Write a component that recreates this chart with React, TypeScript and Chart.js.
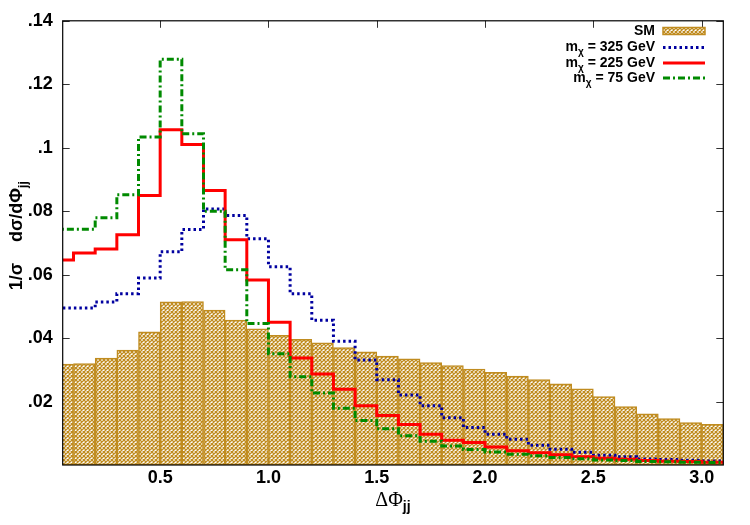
import React, { useEffect, useRef } from 'react';
import { Chart, registerables } from 'chart.js';

Chart.register(...registerables);

// Left edges of the ΔΦjj bins (width 0.1)
const binStart = [
  0.0, 0.1, 0.2, 0.3, 0.4, 0.5, 0.6, 0.7, 0.8, 0.9,
  1.0, 1.1, 1.2, 1.3, 1.4, 1.5, 1.6, 1.7, 1.8, 1.9,
  2.0, 2.1, 2.2, 2.3, 2.4, 2.5, 2.6, 2.7, 2.8, 2.9, 3.0,
];
const binWidth = 0.1;

// Normalised distributions 1/σ dσ/dΦjj
const smValues = [
  0.0318, 0.0320, 0.0337, 0.0362, 0.0420, 0.0514, 0.0515, 0.0488, 0.0457, 0.0429,
  0.0409, 0.0396, 0.0385, 0.0370, 0.0357, 0.0343, 0.0335, 0.0323, 0.0313, 0.0302,
  0.0292, 0.0280, 0.0269, 0.0256, 0.0240, 0.0216, 0.0184, 0.0161, 0.0146, 0.0134, 0.0128,
];
const m325Values = [
  0.0495, 0.0495, 0.0514, 0.0540, 0.0589, 0.0672, 0.0742, 0.0807, 0.0786, 0.0713,
  0.0625, 0.0540, 0.0456, 0.0390, 0.0331, 0.0269, 0.0221, 0.0187, 0.0149, 0.0118,
  0.0097, 0.0081, 0.0062, 0.0050, 0.0040, 0.0031, 0.0026, 0.0019, 0.0017, 0.0015, 0.0013,
];
const m225Values = [
  0.0646, 0.0668, 0.0681, 0.0726, 0.0849, 0.1057, 0.1010, 0.0865, 0.0710, 0.0583,
  0.0450, 0.0337, 0.0287, 0.0239, 0.0187, 0.0156, 0.0128, 0.0097, 0.0078, 0.0071,
  0.0057, 0.0045, 0.0039, 0.0032, 0.0026, 0.0021, 0.0018, 0.0014, 0.0012, 0.0011, 0.0009,
];
const m75Values = [
  0.0743, 0.0743, 0.0779, 0.0852, 0.1034, 0.1279, 0.1044, 0.0800, 0.0615, 0.0446,
  0.0351, 0.0278, 0.0227, 0.0179, 0.0140, 0.0114, 0.0092, 0.0075, 0.0060, 0.0049,
  0.0041, 0.0034, 0.0029, 0.0024, 0.0020, 0.0016, 0.0014, 0.0011, 0.0010, 0.0009, 0.0008,
];

const xTickValues = [0.5, 1.0, 1.5, 2.0, 2.5, 3.0];
const yTickValues = [0.02, 0.04, 0.06, 0.08, 0.1, 0.12, 0.14];
const legendLabels = ['SM', '325', '225', '75'];

const GOLD = 'rgb(192,140,32)';
const BLUE = '#0000a0';
const RED = '#ff0000';
const GREEN = '#008a00';
const SANS = '"Liberation Sans", Arial, sans-serif';
const SERIF = '"Liberation Serif", "Times New Roman", serif';

// Cross-hatch fill used for the SM histogram
function makeHatch(): CanvasPattern | string {
  const p = 4;
  const c = document.createElement('canvas');
  c.width = p;
  c.height = p;
  const g = c.getContext('2d');
  if (!g) return GOLD;
  g.fillStyle = '#ffffff';
  g.fillRect(0, 0, p, p);
  g.strokeStyle = GOLD;
  g.lineWidth = 1.25;
  g.beginPath();
  for (let k = -1; k <= 1; k++) {
    g.moveTo(k * p, 0);
    g.lineTo(k * p + p, p);
    g.moveTo(k * p, p);
    g.lineTo(k * p + p, 0);
  }
  g.stroke();
  return g.createPattern(c, 'repeat') || GOLD;
}

function stepPoints(values: number[]) {
  const pts = binStart.map((x, i) => ({ x, y: values[i] }));
  const last = binStart.length - 1;
  pts.push({ x: binStart[last] + binWidth, y: values[last] });
  return pts;
}

function tickText(v: number): string {
  if (Math.abs(v) < 1e-9) return '';
  const r = Math.round(v * 100) / 100;
  return String(r).replace(/^0/, '');
}

export default function App() {
  const canvasRef = useRef<HTMLCanvasElement | null>(null);

  useEffect(() => {
    const canvas = canvasRef.current;
    if (!canvas) return;
    const hatch = makeHatch();

    const decor = {
      id: 'decor',
      beforeDatasetsDraw(chart: any) {
        const { ctx, chartArea: a, scales } = chart;
        const xs = scales.x;
        const ys = scales.y;
        ctx.save();
        ctx.strokeStyle = '#333';
        ctx.lineWidth = 1;
        ctx.beginPath();
        const tl = 7;
        for (const v of xTickValues) {
          const px = Math.round(xs.getPixelForValue(v)) + 0.5;
          ctx.moveTo(px, a.bottom);
          ctx.lineTo(px, a.bottom - tl);
          ctx.moveTo(px, a.top);
          ctx.lineTo(px, a.top + tl);
        }
        for (const v of yTickValues) {
          const py = Math.round(ys.getPixelForValue(v)) + 0.5;
          ctx.moveTo(a.left, py);
          ctx.lineTo(a.left + tl, py);
          ctx.moveTo(a.right, py);
          ctx.lineTo(a.right - tl, py);
        }
        ctx.stroke();
        ctx.restore();
      },
      afterDatasetsDraw(chart: any) {
        const { ctx, chartArea: a } = chart;
        ctx.save();
        // plot frame
        ctx.strokeStyle = '#000';
        ctx.lineWidth = 1.2;
        ctx.strokeRect(a.left, a.top, a.right - a.left, a.bottom - a.top);

        // legend
        const textRight = 655;
        const sx0 = 663;
        const sx1 = 705;
        const rows = [31, 47.5, 63, 78];
        const mainFont = `bold 14px ${SANS}`;
        const subFont = `bold 10px ${SANS}`;
        ctx.textBaseline = 'middle';
        ctx.fillStyle = '#000';
        rows.forEach((cy, i) => {
          if (i === 0) {
            ctx.font = mainFont;
            ctx.textAlign = 'right';
            ctx.fillText(legendLabels[0], textRight, cy);
          } else {
            const tail = ` = ${legendLabels[i]} GeV`;
            ctx.font = mainFont;
            const wm = ctx.measureText('m').width;
            const wt = ctx.measureText(tail).width;
            ctx.font = subFont;
            const ws = ctx.measureText('χ').width;
            let x = textRight - (wm + ws + wt);
            ctx.textAlign = 'left';
            ctx.font = mainFont;
            ctx.fillText('m', x, cy);
            x += wm;
            ctx.font = subFont;
            ctx.fillText('χ', x, cy + 5);
            x += ws;
            ctx.font = mainFont;
            ctx.fillText(tail, x, cy);
          }
        });
        // SM sample box
        ctx.fillStyle = hatch as any;
        ctx.fillRect(sx0, rows[0] - 3.5, sx1 - sx0, 7);
        ctx.strokeStyle = GOLD;
        ctx.lineWidth = 1.5;
        ctx.strokeRect(sx0, rows[0] - 3.5, sx1 - sx0, 7);
        // line samples
        const samples: [string, number[]][] = [
          [BLUE, [2.5, 3]],
          [RED, []],
          [GREEN, [7, 3, 2, 3]],
        ];
        samples.forEach(([col, dash], k) => {
          const cy = rows[k + 1];
          ctx.beginPath();
          ctx.setLineDash(dash);
          ctx.strokeStyle = col;
          ctx.lineWidth = 3;
          ctx.moveTo(sx0, cy);
          ctx.lineTo(sx1, cy);
          ctx.stroke();
        });
        ctx.setLineDash([]);
        ctx.restore();
      },
      afterDraw(chart: any) {
        const { ctx } = chart;
        ctx.save();
        ctx.fillStyle = '#000';
        ctx.textBaseline = 'alphabetic';

        // x-axis title: ΔΦ_jj
        ctx.font = `20px ${SERIF}`;
        const wMain = ctx.measureText('ΔΦ').width;
        ctx.font = `bold 14px ${SANS}`;
        const wSub = ctx.measureText('jj').width;
        let x = 393 - (wMain + wSub) / 2;
        ctx.textAlign = 'left';
        ctx.font = `20px ${SERIF}`;
        ctx.fillText('ΔΦ', x, 506);
        x += wMain;
        ctx.font = `bold 14px ${SANS}`;
        ctx.fillText('jj', x, 511);

        // y-axis title: 1/σ   dσ/dΦ_jj (reads bottom to top)
        ctx.translate(22, 0);
        ctx.rotate(-Math.PI / 2);
        ctx.font = `bold 18px ${SANS}`;
        const wa = ctx.measureText('1/σ').width;
        ctx.fillText('1/σ', -263 - wa, 0);
        const main = 'dσ/dΦ';
        const wb = ctx.measureText(main).width;
        ctx.fillText(main, -242, 0);
        ctx.font = `bold 12px ${SANS}`;
        ctx.fillText('jj', -242 + wb, 5);
        ctx.restore();
      },
    };

    const chart = new Chart(canvas, {
      type: 'bar',
      data: {
        datasets: [
          {
            type: 'line',
            label: 'm75',
            data: stepPoints(m75Values),
            stepped: true,
            borderColor: GREEN,
            borderWidth: 3,
            borderDash: [7, 3, 2, 3],
            pointRadius: 0,
            fill: false,
            order: 1,
          } as any,
          {
            type: 'line',
            label: 'm225',
            data: stepPoints(m225Values),
            stepped: true,
            borderColor: RED,
            borderWidth: 3,
            pointRadius: 0,
            fill: false,
            order: 2,
          } as any,
          {
            type: 'line',
            label: 'm325',
            data: stepPoints(m325Values),
            stepped: true,
            borderColor: BLUE,
            borderWidth: 3,
            borderDash: [2.5, 3],
            pointRadius: 0,
            fill: false,
            order: 3,
          } as any,
          {
            type: 'bar',
            label: 'SM',
            data: binStart.map((x, i) => ({ x: x + binWidth / 2, y: smValues[i] })),
            backgroundColor: hatch as any,
            borderColor: GOLD,
            borderWidth: 1.5,
            borderSkipped: false,
            barPercentage: 1,
            categoryPercentage: 1,
            order: 4,
          } as any,
        ],
      },
      options: {
        responsive: false,
        animation: false,
        events: [],
        layout: { padding: { top: 17, right: 26.7, left: 0, bottom: 0 } },
        plugins: {
          legend: { display: false },
          tooltip: { enabled: false },
        },
        scales: {
          x: {
            type: 'linear',
            min: 0.05,
            max: 3.1,
            offset: false,
            grid: { display: false, drawTicks: false },
            border: { display: false },
            afterBuildTicks: (s: any) => {
              s.ticks = xTickValues.map((v) => ({ value: v }));
            },
            afterFit: (s: any) => {
              s.height = 60;
            },
            ticks: {
              padding: 2,
              maxRotation: 0,
              autoSkip: false,
              color: '#000',
              font: { family: SANS, size: 18, weight: 'bold' },
              callback: (v: any) => Number(v).toFixed(1),
            },
          },
          y: {
            type: 'linear',
            min: 0,
            max: 0.14,
            grid: { display: false, drawTicks: false },
            border: { display: false },
            afterBuildTicks: (s: any) => {
              s.ticks = [0, ...yTickValues].map((v) => ({ value: v }));
            },
            afterFit: (s: any) => {
              s.width = 62.7;
            },
            ticks: {
              padding: 10,
              autoSkip: false,
              color: '#000',
              font: { family: SANS, size: 18, weight: 'bold' },
              callback: (v: any) => tickText(Number(v)),
            },
          },
        },
      },
      plugins: [decor],
    });

    return () => chart.destroy();
  }, []);

  return (
    <div style={{ position: 'fixed', left: 0, top: 0, width: 750, height: 525, background: '#fff' }}>
      <canvas ref={canvasRef} width={750} height={525} />
    </div>
  );
}
